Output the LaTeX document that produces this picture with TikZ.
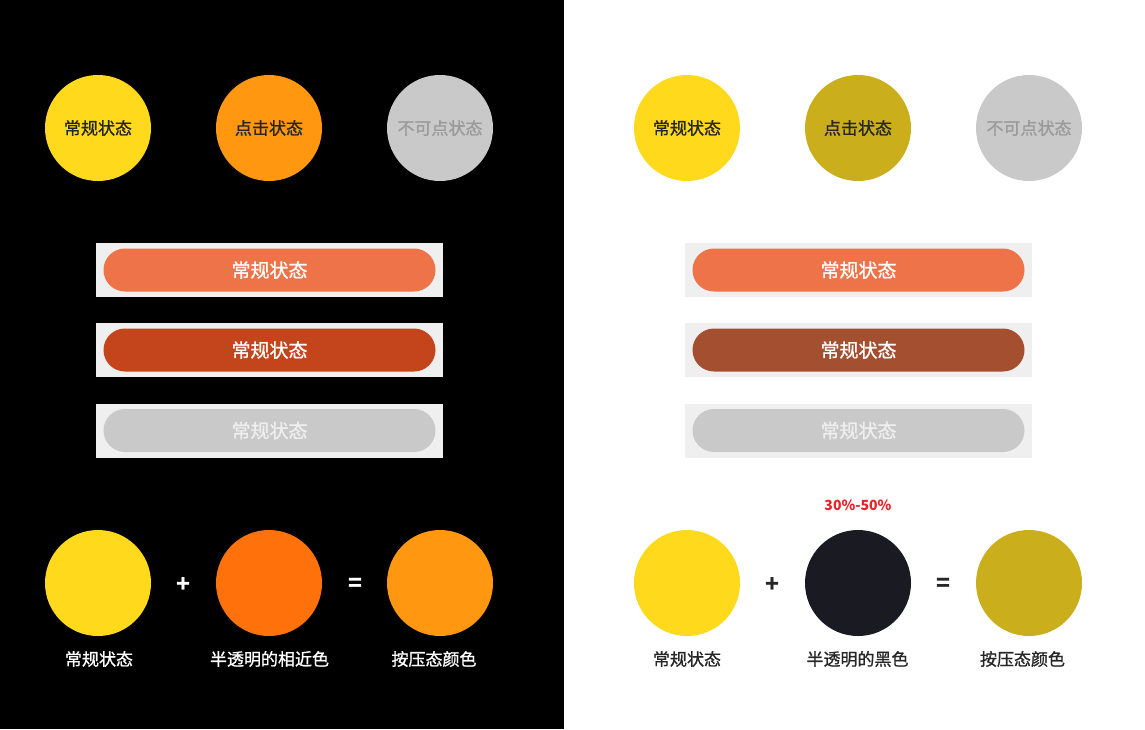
\documentclass[tikz,border=0pt]{standalone}
\usepackage{fontspec}
\setmainfont{Noto Sans CJK SC}
\newfontfamily\cjkmed{Noto Sans CJK SC}[FakeBold=1.0]
\usepackage{tikz}
\usetikzlibrary{positioning}
\definecolor{StateYellow}{HTML}{FFD91B}
\definecolor{PressOrange}{HTML}{FF9711}
\definecolor{OffGray}{HTML}{C9C9C9}
\definecolor{BtnOrange}{HTML}{EE7349}
\definecolor{BtnRed}{HTML}{C4441B}
\definecolor{BtnBrown}{HTML}{A54F31}
\definecolor{PressOlive}{HTML}{CBAE1B}
\definecolor{NearOrange}{HTML}{FF710B}
\definecolor{HalfBlack}{HTML}{1A1A22}
\definecolor{PanelGray}{HTML}{EFEFEF}
\definecolor{InkDark}{HTML}{262626}
\definecolor{OffInk}{HTML}{9A9A9A}
\definecolor{AlphaRed}{HTML}{E8202A}
\newcommand{\stdot}[4]{\node[dot,fill=#3] (#1) at (#2) {#4};}
\newcommand{\stbtn}[4]{\node[btnbox] (#1box) at (#2) {};
  \node[btnpill,fill=#3] (#1) at (#2) {#4};}

\begin{document}
\begin{tikzpicture}[
  x=1pt, y=-1pt,
  dot/.style={circle, minimum size=106pt, inner sep=0pt,
    font=\cjkmed\fontsize{17pt}{19pt}\selectfont, text=InkDark},
  btnbox/.style={rectangle, fill=PanelGray,
    minimum width=347pt, minimum height=54pt, inner sep=0pt},
  btnpill/.style={rectangle, rounded corners=21.5pt, minimum width=332pt,
    minimum height=43pt, inner sep=0pt, text=white,
    font=\cjkmed\fontsize{19pt}{21pt}\selectfont},
  sign/.style={font=\fontsize{23pt}{25pt}\selectfont\bfseries},
  lbl/.style={font=\cjkmed\fontsize{17pt}{19pt}\selectfont},
]

\useasboundingbox (0,0) rectangle (1145,729);
\fill[white] (0,0) rectangle (1145,729);
\fill[black] (0,0) rectangle (564,729);

%% ── Dark side: state circles ────────────────────────────────────────────
\stdot{DN}{98,128}{StateYellow}{常规状态}
\stdot{DP}{269,128}{PressOrange}{点击状态}
\stdot{DO}{440,128}{OffGray}{\color{OffInk}不可点状态}

%% ── Dark side: buttons ──────────────────────────────────────────────────
\stbtn{DB1}{269.5,270}{BtnOrange}{常规状态}
\stbtn{DB2}{269.5,350}{BtnRed}{常规状态}
\stbtn{DB3}{269.5,430.5}{OffGray}{\color{PanelGray}常规状态}

%% ── Dark side: colour mixing ────────────────────────────────────────────
\stdot{DM1}{98,583}{StateYellow}{}
\stdot{DM2}{269,583}{NearOrange}{}
\stdot{DM3}{440,583}{PressOrange}{}
\node[sign, text=white] (DPlus) at (184,585) {+};
\node[sign, text=white] (DEq) at (355,585) {=};
\node[lbl, text=white] (DL1) at (99,659) {常规状态};
\node[lbl, text=white] (DL2) at (269.5,659) {半透明的相近色};
\node[lbl, text=white] (DL3) at (434,659) {按压态颜色};

%% ── Light side: state circles ───────────────────────────────────────────
\stdot{LN}{687,128}{StateYellow}{常规状态}
\stdot{LP}{858,128}{PressOlive}{点击状态}
\stdot{LO}{1029,128}{OffGray}{\color{OffInk}不可点状态}

%% ── Light side: buttons ─────────────────────────────────────────────────
\stbtn{LB1}{858.5,270}{BtnOrange}{常规状态}
\stbtn{LB2}{858.5,350}{BtnBrown}{常规状态}
\stbtn{LB3}{858.5,430.5}{OffGray}{\color{PanelGray}常规状态}

%% ── Light side: colour mixing ───────────────────────────────────────────
\stdot{LM1}{687,583}{StateYellow}{}
\stdot{LM2}{858,583}{HalfBlack}{}
\stdot{LM3}{1029,583}{PressOlive}{}
\node[font=\fontsize{14pt}{16pt}\selectfont\bfseries, text=AlphaRed]
  (LAlpha) at (858,505) {30\%-50\%};
\node[sign, text=InkDark] (LPlus) at (772,585) {+};
\node[sign, text=InkDark] (LEq) at (943,585) {=};
\node[lbl, text=InkDark] (LL1) at (687,659) {常规状态};
\node[lbl, text=InkDark] (LL2) at (857.5,659) {半透明的黑色};
\node[lbl, text=InkDark] (LL3) at (1022.5,659) {按压态颜色};

\end{tikzpicture}
\end{document}
